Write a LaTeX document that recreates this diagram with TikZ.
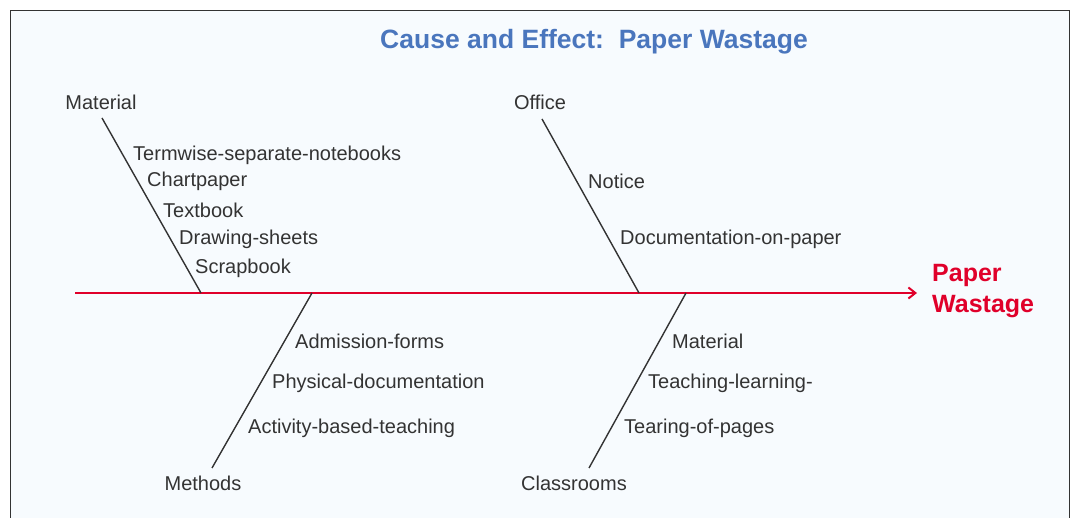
\documentclass[tikz,border=0pt]{standalone}
\usepackage{fontspec}
\setmainfont{Liberation Sans}
\usetikzlibrary{arrows.meta}

\definecolor{titleblue}{HTML}{4A76BD}
\definecolor{spinered}{HTML}{E0002A}
\definecolor{inkgray}{HTML}{333333}
\definecolor{paperbg}{HTML}{F7FBFE}

\tikzset{
  branch/.style={text=inkgray, inner sep=0pt, yshift=-1.5pt, font=\fontsize{20}{24}\selectfont},
  cause/.style={branch, anchor=west},
  bone/.style={draw=inkgray, line width=1.4pt},
  spine/.style={draw=spinered, line width=2pt, -{Straight Barb[length=7pt,width=11pt,line width=2pt]}},
  effect/.style={text=spinered, anchor=west, align=left, inner sep=0pt,
    font=\fontsize{25}{31}\selectfont\bfseries},
}

\begin{document}
\begin{tikzpicture}[x=1pt,y=-1pt]
    \useasboundingbox (0,0) rectangle (1071,518);

    % Panel
    \begin{scope}
      \clip (0,0) rectangle (1071,518);
      \draw[fill=paperbg, draw=inkgray, line width=1.5pt] (10.5,10.5) rectangle (1069.5,540);
    \end{scope}

    % Title
    \node[text=titleblue, yshift=-2pt, font=\fontsize{26.5}{30}\selectfont\bfseries] (title) at (594,40)
      {Cause and Effect:\ \ Paper Wastage};

    % Spine and effect
    \coordinate (tail) at (75,293);
    \coordinate (head) at (917,293);
    \draw[spine] (tail) -- (head);
    \node[effect] (effect) at (932,291) {Paper\\Wastage};

    % Material
    \node[branch] (material) at (101,101) {Material};
    \coordinate (material top) at (102,118);
    \coordinate (material foot) at (201,293);
    \draw[bone] (material top) -- (material foot);
    \node[cause] (notebooks) at (133,154) {Termwise-separate-notebooks};
    \node[cause] (chartpaper) at (147,180) {Chartpaper};
    \node[cause] (textbook) at (163,209) {Textbook};
    \node[cause] (sheets) at (179,238) {Drawing-sheets};
    \node[cause] (scrapbook) at (195,267) {Scrapbook};

    % Office
    \node[branch] (office) at (540,101) {Office};
    \coordinate (office top) at (542,119);
    \coordinate (office foot) at (639,293);
    \draw[bone] (office top) -- (office foot);
    \node[cause] (notice) at (588,180) {Notice};
    \node[cause] (docs) at (620,238) {Documentation-on-paper};

    % Methods
    \node[branch] (methods) at (203,482) {Methods};
    \coordinate (methods top) at (312,293);
    \coordinate (methods foot) at (212,468);
    \draw[bone] (methods top) -- (methods foot);
    \node[cause] (forms) at (295,340) {Admission-forms};
    \node[cause] (physical) at (272,382) {Physical-documentation};
    \node[cause] (activity) at (248,427) {Activity-based-teaching};

    % Classrooms
    \node[branch] (classrooms) at (574,482) {Classrooms};
    \coordinate (class top) at (686,293);
    \coordinate (class foot) at (589,468);
    \draw[bone] (class top) -- (class foot);
    \node[cause] (classmat) at (672,340) {Material};
    \node[cause] (teaching) at (648,382) {Teaching-learning-};
    \node[cause] (tearing) at (624,427) {Tearing-of-pages};
\end{tikzpicture}
\end{document}
